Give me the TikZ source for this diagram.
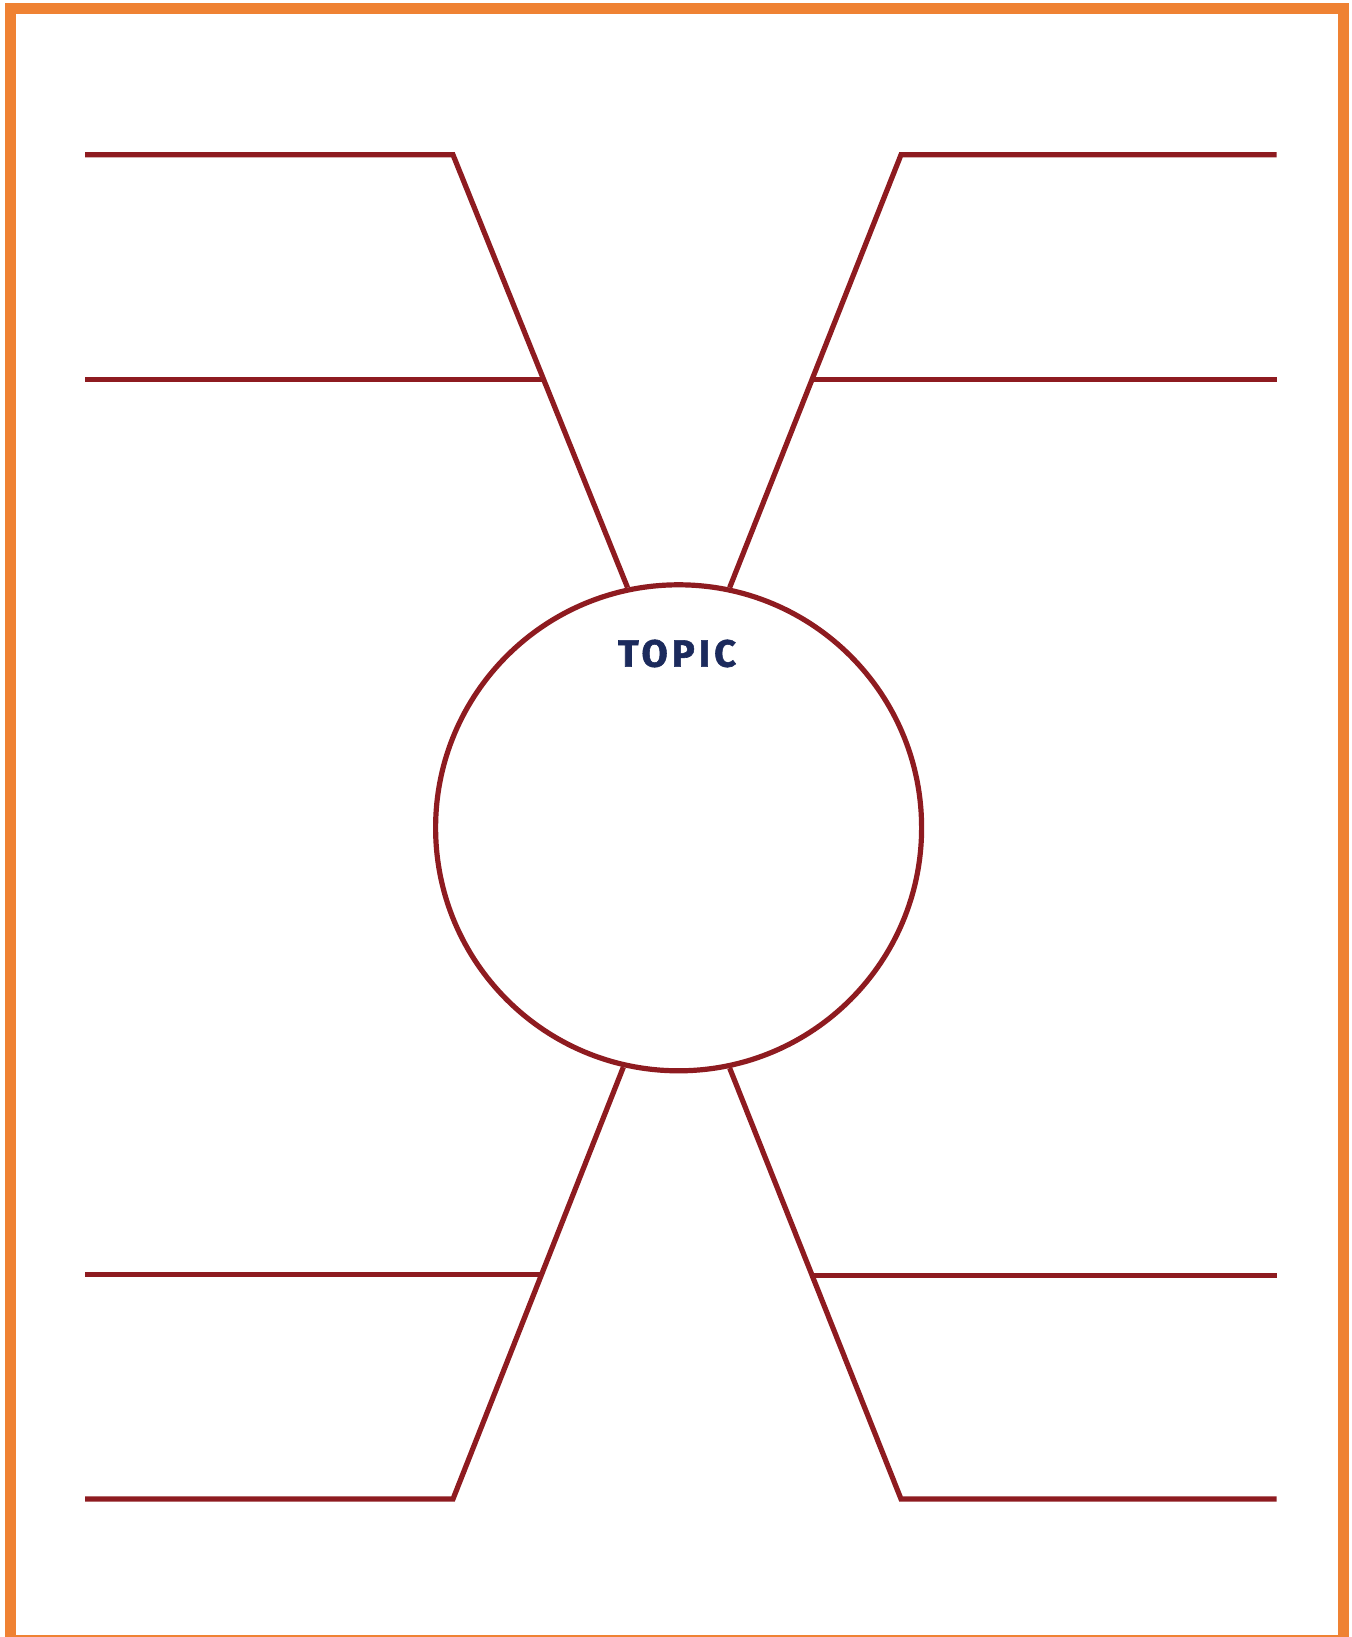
\documentclass[tikz,border=0pt]{standalone}
\usepackage{fontspec}
\newfontfamily\topicfont[LetterSpace=11,BoldFeatures={FakeBold=1.5}]{Fira Sans}
\definecolor{frameorange}{HTML}{EF8233}
\definecolor{branchred}{HTML}{8E1B20}
\definecolor{topicblue}{HTML}{1B2A5C}

\begin{document}
\begin{tikzpicture}[x=1pt,y=-1pt,
	branch/.style={draw=branchred,line width=5.2pt},
	title/.style={text=topicblue,font=\topicfont\bfseries\fontsize{38}{44}\selectfont,inner sep=0pt}]

\useasboundingbox (0,0) rectangle (1351,1637);
\draw[frameorange,line width=10.7pt] (10.3,8.6) rectangle (1343.6,1640);

% central circle
\node[circle,draw=branchred,fill=white,line width=5.2pt,minimum size=486pt,inner sep=0pt] (hub) at (678.6,827.8) {};
\node[title] (topic) at ([xshift=-1.5pt,yshift=174.3pt]hub.center) {TOPIC};

% four branches, each with two lines
\foreach \n/\x/\y/\e/\a in {tl/453/154.8/85/102.3, tr/901/154.8/1276.5/78.6,
	bl/453/1499/85/257.6, br/901/1499/1276.5/282.3}{
	\coordinate (\n) at (\x,\y);
	\draw[branch] (\e,\y) -- (\n) -- coordinate[pos=0.519] (\n-j) (hub.\a);
	\draw[branch] (\n-j) -- (\n-j -| \e,0);
}

\end{tikzpicture}
\end{document}
